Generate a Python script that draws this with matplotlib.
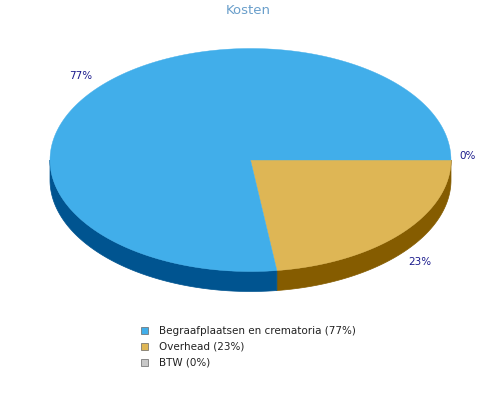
import numpy as np
import matplotlib
matplotlib.use('Agg')
import matplotlib.pyplot as plt
from matplotlib.patches import Polygon, Rectangle

labels = ['Begraafplaatsen en crematoria', 'Overhead', 'BTW']
shares = [77.1, 22.9, 0]
top_colors = ['#41AEEA', '#DEB655', '#C8C8C8']
side_colors = ['#005490', '#855C00', '#808080']

# pixel space, y runs downward like in the picture
fig = plt.figure(figsize=(5, 4), dpi=100)
ax = fig.add_axes([0, 0, 1, 1])
ax.set_xlim(0, 500)
ax.set_ylim(400, 0)
ax.axis('off')

cx, cy = 250.5, 160
rx, ry = 200.5, 111.5
depth = 20


def rim(a0, a1):
    # angles clockwise from 3 o'clock, so they go down on screen
    t = np.radians(np.linspace(a0, a1, 200))
    return cx + rx * np.cos(t), cy + ry * np.sin(t)


# start at 3 o'clock, overhead goes first clockwise, then the big slice
order = [1, 0]
start = 0
angles = {}
for i in order:
    end = start + shares[i] * 3.6
    angles[i] = (start, end)
    start = end

# side walls, only the front half is seen
for i in order:
    a0, a1 = angles[i]
    a0, a1 = max(a0, 0), min(a1, 180)
    if a1 <= a0:
        continue
    x, y = rim(a0, a1)
    pts = np.r_[np.c_[x, y], np.c_[x[::-1], y[::-1] + depth]]
    ax.add_patch(Polygon(pts, closed=True, fc=side_colors[i], ec=side_colors[i], lw=0.5))

for i in order:
    x, y = rim(*angles[i])
    pts = np.r_[[[cx, cy]], np.c_[x, y]]
    ax.add_patch(Polygon(pts, closed=True, fc=top_colors[i], ec=top_colors[i], lw=0.3))

ax.text(248.5, 10, 'Kosten', color='#6A9FCB', fontsize=9.5, ha='center', va='center')

label_color = '#1A1A8C'
ax.text(80.5, 76, '77%', color=label_color, fontsize=7.5, ha='center', va='center')
ax.text(419.5, 262, '23%', color=label_color, fontsize=7.5, ha='center', va='center')
ax.text(468, 156, '0%', color=label_color, fontsize=7.5, ha='center', va='center')

for row, (name, share, col) in enumerate(zip(labels, shares, top_colors)):
    y = 330.5 + row * 16
    ax.add_patch(Rectangle((141, y - 3.5), 7, 7, fc=col, ec='#666666', lw=0.5))
    ax.text(159, y, f'{name} ({share:.0f}%)', color='#222222', fontsize=7.5, ha='left', va='center')

fig.savefig('out.png', dpi=100)
